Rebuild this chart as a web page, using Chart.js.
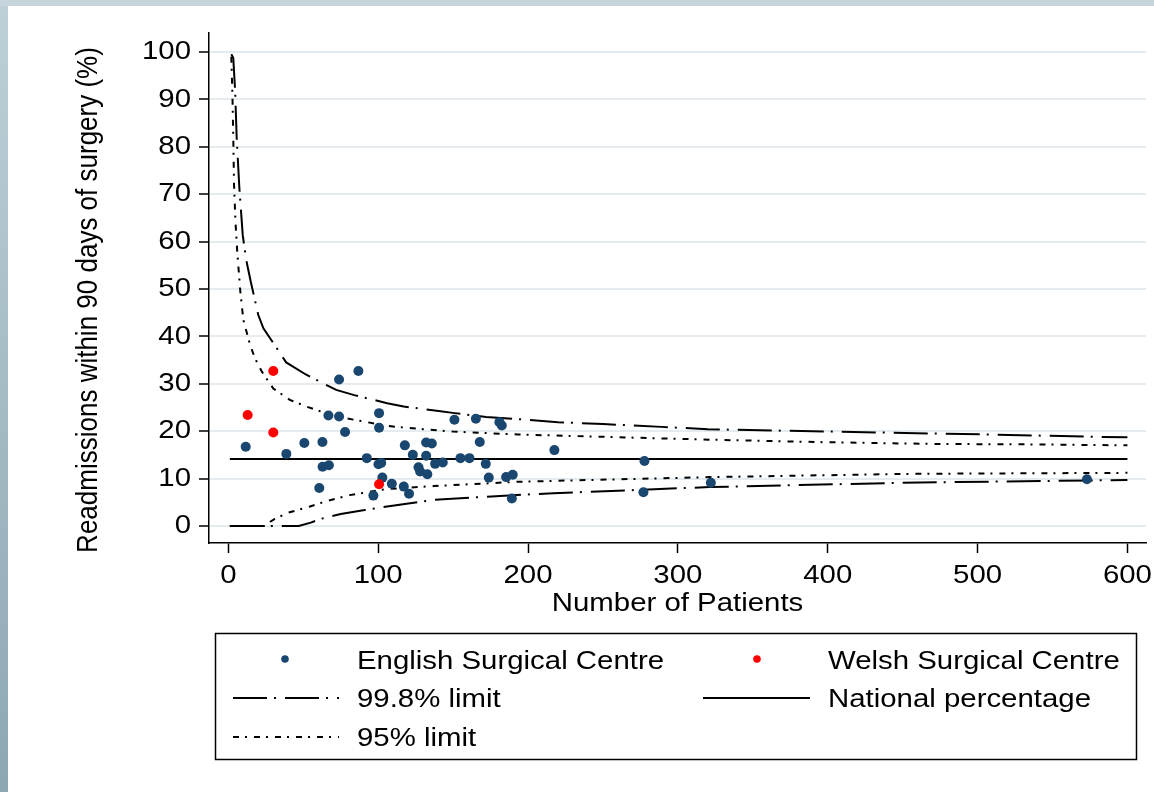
<!DOCTYPE html>
<html><head><meta charset="utf-8">
<script src="https://cdn.jsdelivr.net/npm/chart.js@4.4.0/dist/chart.umd.min.js"></script>
<style>
html,body{margin:0;padding:0;overflow:hidden;}
body{width:1154px;height:792px;position:relative;background:linear-gradient(to bottom,#bdd0d8,#8da7b1);}
#top{position:absolute;left:0;top:0;width:1154px;height:6px;background:#c6d4db;}
#paper{position:absolute;left:8px;top:6px;width:1146px;height:786px;background:#fff;}
#wrap{position:absolute;left:0;top:0;width:1170px;height:792px;}
</style></head><body>
<div id="top"></div><div id="paper"></div>
<div id="wrap"><canvas id="c" width="1170" height="792"></canvas></div>
<script>
// ---- data ----
const englishN   = [11.6,38.7,50.7,60.7,62.8,62.9,66.8,67.1,73.9,73.9,77.9,86.8,92.4,96.8,100.6,100.6,100.2,102.0,102.8,109.1,117.1,117.8,120.6,123.1,126.9,128.0,132.0,132.0,132.8,135.8,138.0,143.1,150.9,154.9,160.9,165.2,167.8,171.8,173.8,180.9,182.5,185.4,189.8,189.2,217.6,277.7,277.0,322.0,573.0];
const englishPct = [16.7,15.2,17.5,8.0,17.7,12.5,23.3,12.8,30.9,23.1,19.8,32.7,14.3,6.4,23.8,20.7,13.0,13.3,10.2,8.9,8.3,17.0,6.8,15.0,12.4,11.5,17.6,14.8,10.9,17.4,13.1,13.4,22.4,14.3,14.3,22.6,17.7,13.1,10.2,21.9,21.2,10.3,10.8,5.8,16.0,13.7,7.1,9.1,9.85];
const welshN   = [12.9,30.0,30.0,100.6];
const welshPct = [23.4,32.7,19.7,8.8];

const nationalN   = [1,600];
const nationalPct = [14.1,14.1];

const upper998N   = [2,3.3,4.5,5.6,7.3,9.6,12,15.2,20,23.4,30,38.6,52,72,84,106,117,139,151,172,200,220,250,289,320,403,506,577,600];
const upper998Pct = [99.5,98.7,92,81.8,71.6,61.4,56,51.2,44.5,41.7,38.6,34.5,31.9,28.7,27.6,25.9,25.2,24.3,23.8,23.0,22.4,21.9,21.5,20.9,20.4,19.9,19.3,18.8,18.7];
const lower998N   = [1,47,55,63,75,90,106,137,190,217,321,448,600];
const lower998Pct = [0,0,0.7,1.6,2.5,3.3,4.1,5.5,6.5,6.9,8.2,9.1,9.7];

const upper95N   = [2,2.8,3.3,3.8,4.8,6,8,10,14.5,18,22.3,30,41,52,65,79,106,130,150,193,250,321,393,470,537,600];
const upper95Pct = [99,90,82,72,64,57.6,49.5,43.5,38.2,35.2,32.6,29.0,26.6,25.2,23.8,22.7,21.1,20.4,19.9,19.3,18.8,18.2,17.7,17.3,17.2,17.0];
const lower95N   = [1,25.6,28,31,40,54.5,65,81,106,137,192,228,321,457,600];
const lower95Pct = [0,0,0.9,1.5,2.8,4.1,5.2,6.5,7.8,8.4,9.3,9.6,10.3,11.0,11.2];

const xTicks = [0,100,200,300,400,500,600];
const yTicks = [0,10,20,30,40,50,60,70,80,90,100];
const xTitle = 'Number of Patients';
const yTitle = 'Readmissions within 90 days of surgery (%)';
const legendLabels = ['English Surgical Centre','Welsh Surgical Centre','99.8% limit','National percentage','95% limit'];

// ---- rendering ----
const SX = 1.13;
const FONT = '"Liberation Sans", Arial, Helvetica, sans-serif';
const canvas = document.getElementById('c');
const ctx = canvas.getContext('2d');
const rawFill = ctx.fillText.bind(ctx);
const rawMeasure = ctx.measureText.bind(ctx);
ctx.fillText = function(t, x, y){ ctx.save(); ctx.translate(x, y); ctx.scale(SX, 1); rawFill(t, 0, 0); ctx.restore(); };
ctx.measureText = function(t){ const m = rawMeasure(t); return {width: m.width*SX, actualBoundingBoxAscent: m.actualBoundingBoxAscent, actualBoundingBoxDescent: m.actualBoundingBoxDescent, actualBoundingBoxLeft: m.actualBoundingBoxLeft*SX, actualBoundingBoxRight: m.actualBoundingBoxRight*SX}; };

const zip = (xs, ys) => xs.map((x, i) => ({x, y: ys[i]}));
const BLUE = '#1a476f', RED = '#ff0000';
const DASH998 = [34,7,2,9], DASH95 = [6,6,2,7];

function lineDs(label, xs, ys, dash){
  return {label, data: zip(xs, ys), showLine: true, borderColor: '#000', borderWidth: 2, borderDash: dash,
    pointRadius: 0, pointHoverRadius: 0, fill: false, tension: 0};
}

const titleAndLegend = {
  id: 'titleAndLegend',
  afterDraw(chart){
    const c = chart.ctx;
    // y-axis title
    c.save();
    c.font = '26px ' + FONT; c.fillStyle = '#000'; c.textAlign = 'center'; c.textBaseline = 'alphabetic';
    c.translate(96.5, 300); c.scale(SX, 1); c.rotate(-Math.PI/2);
    rawFill(yTitle, 0, 0);
    c.restore();
    // legend box
    c.save();
    c.strokeStyle = '#000'; c.lineWidth = 1.5;
    c.strokeRect(215.5, 633.5, 921, 126);
    // markers
    c.fillStyle = BLUE; c.beginPath(); c.arc(285, 659, 3.8, 0, Math.PI*2); c.fill();
    c.fillStyle = RED;  c.beginPath(); c.arc(757, 659, 3.8, 0, Math.PI*2); c.fill();
    // line samples
    c.strokeStyle = '#000'; c.lineWidth = 2;
    c.setLineDash(DASH998); c.beginPath(); c.moveTo(233, 698); c.lineTo(339, 698); c.stroke();
    c.setLineDash([]);      c.beginPath(); c.moveTo(703, 698); c.lineTo(810, 698); c.stroke();
    c.setLineDash(DASH95);  c.beginPath(); c.moveTo(233, 737); c.lineTo(339, 737); c.stroke();
    c.setLineDash([]);
    // texts
    c.font = '26px ' + FONT; c.fillStyle = '#000'; c.textAlign = 'left'; c.textBaseline = 'alphabetic';
    c.fillText(legendLabels[0], 357, 669);
    c.fillText(legendLabels[1], 828, 669);
    c.fillText(legendLabels[2], 357, 707);
    c.fillText(legendLabels[3], 828, 707);
    c.fillText(legendLabels[4], 357, 746);
    c.restore();
  }
};

new Chart(ctx, {
  type: 'scatter',
  data: {
    datasets: [
      {label: 'Welsh Surgical Centre', data: zip(welshN, welshPct), backgroundColor: RED, borderColor: RED, pointRadius: 5, pointBorderWidth: 0, pointHoverRadius: 5},
      {label: 'English Surgical Centre', data: zip(englishN, englishPct), backgroundColor: BLUE, borderColor: BLUE, pointRadius: 5, pointBorderWidth: 0, pointHoverRadius: 5},
      lineDs('National percentage', nationalN, nationalPct, []),
      lineDs('99.8% limit upper', upper998N, upper998Pct, DASH998),
      lineDs('99.8% limit lower', lower998N, lower998Pct, DASH998),
      lineDs('95% limit upper', upper95N, upper95Pct, DASH95),
      lineDs('95% limit lower', lower95N, lower95Pct, DASH95)
    ]
  },
  options: {
    responsive: false,
    animation: false,
    events: [],
    layout: {padding: {left: 0, right: 24, top: 33, bottom: 169}},
    plugins: {legend: {display: false}, tooltip: {enabled: false}},
    scales: {
      x: {
        type: 'linear', min: -12.9, max: 612.4,
        afterBuildTicks: s => { s.ticks = xTicks.map(v => ({value: v})); },
        afterFit: s => { s.height = 80; },
        ticks: {color: '#000', font: {family: FONT, size: 26}, padding: 7, maxRotation: 0, autoSkip: false, callback: v => String(v)},
        grid: {drawOnChartArea: false, drawTicks: true, tickLength: 10, tickColor: '#000', tickWidth: 1.5},
        border: {color: '#000', width: 1.5},
        title: {display: true, text: xTitle, color: '#000', font: {family: FONT, size: 26}, padding: {top: 0, bottom: 4}}
      },
      y: {
        type: 'linear', min: -3.6, max: 104,
        afterBuildTicks: s => { s.ticks = yTicks.map(v => ({value: v})); },
        afterFit: s => { s.width = 209; },
        ticks: {color: '#000', font: {family: FONT, size: 26}, padding: 8, autoSkip: false, callback: v => String(v)},
        grid: {color: '#e4ecef', lineWidth: 2, drawTicks: true, tickLength: 10, tickColor: '#000', tickWidth: 1.5},
        border: {color: '#000', width: 1.5}
      }
    }
  },
  plugins: [titleAndLegend]
});
</script>
</body></html>
